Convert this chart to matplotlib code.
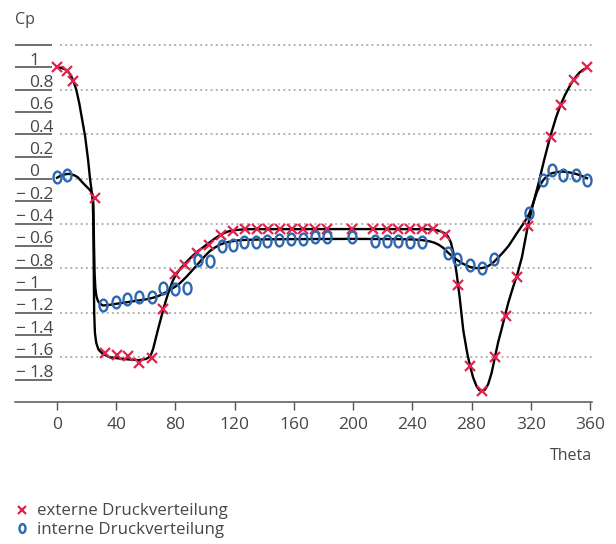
import numpy as np
import matplotlib
matplotlib.use('Agg')
from matplotlib import pyplot as plt
from matplotlib.path import Path
from matplotlib.transforms import Affine2D

# measured points, externe Druckverteilung
ext_theta = [0, 7, 11, 25.5, 32.4, 40.3, 47.7, 55.6, 63.9, 71.8, 79.7, 86.4, 94.7,
             102.8, 110.5, 118.6, 127, 134.8, 142.7, 150.6, 158.4, 166.3, 174.2,
             182.1, 199, 213.6, 222.6, 230.5, 238.4, 246.3, 254.1, 262, 271, 278.9,
             286.8, 295.7, 303.2, 310.8, 318.3, 333.3, 340.7, 349, 358]
ext_cp = [1.0, 0.97, 0.88, -0.17, -1.56, -1.58, -1.59, -1.65, -1.61, -1.165, -0.85,
          -0.77, -0.66, -0.59, -0.50, -0.47, -0.445, -0.445, -0.445, -0.445, -0.445,
          -0.445, -0.445, -0.445, -0.445, -0.445, -0.445, -0.445, -0.445, -0.445,
          -0.445, -0.505, -0.955, -1.68, -1.90, -1.60, -1.225, -0.88, -0.42, 0.375,
          0.66, 0.89, 1.0]

# measured points, interne Druckverteilung
int_theta = [0, 7, 31.3, 39.9, 47.5, 55.6, 63.9, 71.8, 79.7, 87.6, 95.4, 103.3,
             111.2, 118.6, 126.3, 134.4, 142, 150, 158, 165.9, 174.2, 182.1, 199,
             214.7, 222.6, 230.5, 238.4, 246.3, 264, 270.3, 278.9, 286.8, 295.3,
             319, 328.4, 334, 341.9, 350.4, 358]
int_cp = [0.015, 0.035, -1.13, -1.10, -1.075, -1.06, -1.06, -0.975, -0.99, -0.975,
          -0.73, -0.735, -0.60, -0.595, -0.57, -0.565, -0.555, -0.545, -0.535,
          -0.535, -0.52, -0.52, -0.52, -0.555, -0.555, -0.555, -0.565, -0.57,
          -0.66, -0.72, -0.775, -0.795, -0.715, -0.31, -0.01, 0.08, 0.035, 0.035,
          -0.01]

# fitted curves
ext_fit_theta = [0, 3, 5, 7, 9, 11, 13, 15, 17, 19, 21, 22.3, 23.5, 24.2, 24.5, 24.8,
                 25.1, 25.6, 26.5, 28, 31, 36, 45, 55, 60, 62, 63.5, 65, 66.5, 68,
                 70, 72, 74, 76, 78, 80, 83, 86, 90, 94, 98, 102, 106, 110, 113, 116,
                 119, 122, 126, 130, 200, 250, 254, 257, 260, 262, 264, 266, 268, 270,
                 272, 274.4, 277, 279, 281, 283.4, 285, 286.8, 289, 291.2, 293.5,
                 295.7, 298, 300, 303, 305, 308, 311, 314, 318, 322, 325, 329, 333,
                 337, 340, 343, 345, 347, 349, 351, 353, 355.5, 358]
ext_fit_cp = [1.0, 0.995, 0.985, 0.97, 0.935, 0.88, 0.8, 0.68, 0.53, 0.38, 0.17, 0.0,
              -0.12, -0.2, -0.4, -0.8, -1.2, -1.38, -1.47, -1.53, -1.57, -1.6,
              -1.615, -1.625, -1.615, -1.6, -1.575, -1.52, -1.44, -1.36, -1.26,
              -1.16, -1.07, -0.99, -0.92, -0.865, -0.81, -0.765, -0.71, -0.66,
              -0.62, -0.58, -0.54, -0.505, -0.485, -0.47, -0.462, -0.457, -0.453,
              -0.451, -0.45, -0.451, -0.455, -0.462, -0.475, -0.49, -0.515, -0.57,
              -0.68, -0.86, -1.07, -1.36, -1.56, -1.68, -1.78, -1.86, -1.89, -1.905,
              -1.89, -1.84, -1.74, -1.6, -1.46, -1.36, -1.2, -1.1, -0.97, -0.85,
              -0.7, -0.42, -0.2, -0.05, 0.17, 0.375, 0.55, 0.66, 0.75, 0.8, 0.85,
              0.89, 0.925, 0.955, 0.98, 0.995]

int_fit_theta = [0, 2, 4, 6, 8, 10, 12, 14, 16.7, 18.5, 20, 21.5, 22.5, 23.5, 24.2,
                 24.6, 25, 25.4, 25.9, 26.6, 27.5, 28.7, 31, 35, 40, 50, 60, 65, 68.5,
                 71.6, 74.5, 77, 80, 83, 86.5, 90, 93, 96, 100, 103, 106, 110, 113,
                 116, 120, 125, 140, 160, 200, 230, 240, 245, 249, 252, 255, 258, 261,
                 264, 267, 270, 274, 278.9, 283, 286.8, 290, 292, 295, 298, 301.5,
                 305, 308, 310.4, 313, 315, 317, 319, 321.5, 324, 326.5, 328.4, 331,
                 334, 338, 342, 346, 350.4, 354, 358]
int_fit_cp = [0.01, 0.025, 0.035, 0.042, 0.045, 0.04, 0.03, 0.015, -0.025, -0.05,
              -0.07, -0.09, -0.105, -0.125, -0.15, -0.25, -0.6, -0.85, -0.98, -1.05,
              -1.09, -1.115, -1.135, -1.13, -1.12, -1.1, -1.08, -1.065, -1.05, -1.03,
              -1.01, -0.99, -0.965, -0.935, -0.89, -0.84, -0.795, -0.75, -0.69,
              -0.65, -0.62, -0.59, -0.575, -0.565, -0.555, -0.548, -0.542, -0.54,
              -0.538, -0.54, -0.543, -0.547, -0.553, -0.561, -0.573, -0.592, -0.62,
              -0.66, -0.695, -0.725, -0.76, -0.79, -0.8, -0.8, -0.79, -0.775, -0.745,
              -0.705, -0.655, -0.6, -0.54, -0.49, -0.44, -0.4, -0.36, -0.31, -0.22,
              -0.12, -0.05, -0.01, 0.025, 0.05, 0.062, 0.065, 0.058, 0.045, 0.028,
              0.006]

x_ticks = np.arange(0, 361, 40)
y_ticks = np.round(np.arange(1.2, -1.81, -0.2), 1)
y_grid = np.round(np.arange(1.2, -1.61, -0.4), 1)

red = '#e2234d'
blue = '#2f68b0'
grey = '#474747'

plt.rcParams['font.family'] = ['Open Sans', 'DejaVu Sans']

W, H = 616, 544
fig = plt.figure(figsize=(W / 100, H / 100), dpi=100)
ax = fig.add_axes([15 / W, (H - 402) / H, 577 / W, 357 / H])
ax.set_xlim(-28.37, 361.3)
ax.set_ylim(-2.0, 1.2)

# px -> data helpers for the left tick column
px_x = 577 / (361.3 + 28.37)
px_y = 357 / 3.2

# dotted horizontal grid
ax.hlines(y_grid, 2, 362, colors='#9a9a9a', linestyles=(0, (1.2, 2.2)),
          linewidth=1.1, clip_on=False, zorder=1)

# underlined y tick labels on the left
ax.hlines(y_ticks, -28.37, -28.37 + 37 / px_x, colors=grey, linewidth=1.1,
          clip_on=False)
for v in y_ticks:
    if abs(v - 1.2) < 1e-6:
        continue
    lab = f'{abs(v):g}'
    ax.text(-28.37 + 14 / px_x, v + 2.5 / px_y, lab, ha='left', va='baseline',
            fontsize=12.5, color=grey)
    if v < 0:
        ax.text(-28.37, v + 2.5 / px_y, '\u2212', ha='left', va='baseline',
                fontsize=12.5, color=grey)

# fitted curves
ax.plot(ext_fit_theta, ext_fit_cp, color='black', linewidth=1.7, zorder=2,
        solid_joinstyle='round')
ax.plot(int_fit_theta, int_fit_cp, color='black', linewidth=1.7, zorder=2,
        solid_joinstyle='round')

# tall oval marker
oval = Path.unit_circle().transformed(Affine2D().scale(0.68, 1.0))

ext_pts, = ax.plot(ext_theta, ext_cp, linestyle='none', marker='x', color=red,
                   markersize=7.5, markeredgewidth=1.6, zorder=3,
                   label='externe Druckverteilung')
int_pts, = ax.plot(int_theta, int_cp, linestyle='none', marker=oval,
                   markerfacecolor='none', markeredgecolor=blue, markersize=8.5,
                   markeredgewidth=1.7, zorder=3, label='interne Druckverteilung')

for s in ['left', 'right', 'top']:
    ax.spines[s].set_visible(False)
ax.spines['bottom'].set_color('#555555')
ax.spines['bottom'].set_linewidth(1.1)
ax.set_yticks([])
ax.set_xticks(x_ticks)
ax.tick_params(axis='x', direction='out', length=6, width=1.0, color='#555555',
               pad=4.5, labelsize=12.5, labelcolor=grey)

fig.text(15 / W, 1 - 20 / H, 'Cp', ha='left', va='center', fontsize=11.5, color=grey)
fig.text(592 / W, 1 - 456 / H, 'Theta', ha='right', va='center', fontsize=11.5,
         color=grey)

fig.legend(handles=[ext_pts, int_pts], loc='upper left',
           bbox_to_anchor=(8 / W, 1 - 495 / H), frameon=False, fontsize=12.2,
           handlelength=0.7, handletextpad=0.5, labelspacing=0.12,
           borderpad=0, labelcolor=grey, markerscale=0.75)

fig.savefig('out.png', dpi=100)
